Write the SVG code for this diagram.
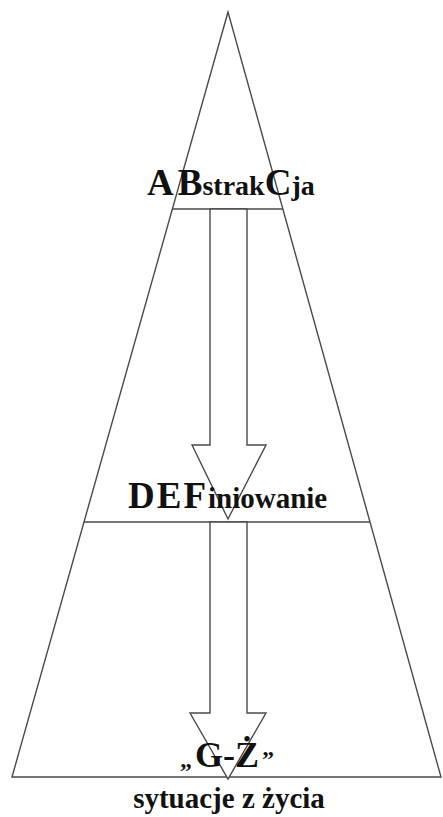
<svg xmlns="http://www.w3.org/2000/svg" width="443" height="817" viewBox="0 0 443 817">
  <style>
    .ln { fill: none; stroke: #4a4a4a; stroke-width: 1.4; stroke-linejoin: miter; }
    .arrow { fill: #ffffff; stroke: #4a4a4a; stroke-width: 1.4; stroke-linejoin: miter; }
    .lbl { font-family: "Liberation Serif", "Times New Roman", serif; font-weight: bold; fill: #111111; }
    .big { font-size: 37px; }
    .small { font-size: 28px; }
  </style>
  <rect width="443" height="817" fill="#ffffff"/>
  <g id="pyramid">
    <polygon class="ln" points="228,12 12,777 441,777"/>
    <line class="ln" x1="172" y1="209" x2="283" y2="209"/>
    <line class="ln" x1="84" y1="522" x2="370" y2="522"/>
  </g>
  <g id="connectors">
    <polygon class="arrow" points="210,209 247,209 247,445 266,445 228,519 192,445 210,445"/>
    <polygon class="arrow" points="210,522 247,522 247,713 266,713 228,779 190,713 210,713"/>
  </g>
  <g id="abstrakcja">
    <text class="lbl" x="147" y="195"><tspan class="big">A</tspan><tspan class="big" dx="4">B</tspan><tspan class="small">strak</tspan><tspan class="big">C</tspan><tspan class="small">ja</tspan></text>
  </g>
  <g id="definiowanie">
    <text class="lbl" x="128" y="508"><tspan class="big" style="letter-spacing:2px">DEF</tspan><tspan class="small" style="font-size:29px">iniowanie</tspan></text>
  </g>
  <g id="gz">
    <text class="lbl" x="180" y="767"><tspan style="font-size:24px">„</tspan><tspan style="font-size:36px" dx="3">G-Ż</tspan><tspan style="font-size:24px" dx="3">”</tspan></text>
  </g>
  <g id="sytuacje">
    <text class="lbl" x="229" y="808" text-anchor="middle" style="font-size:29px">sytuacje z życia</text>
  </g>
</svg>
